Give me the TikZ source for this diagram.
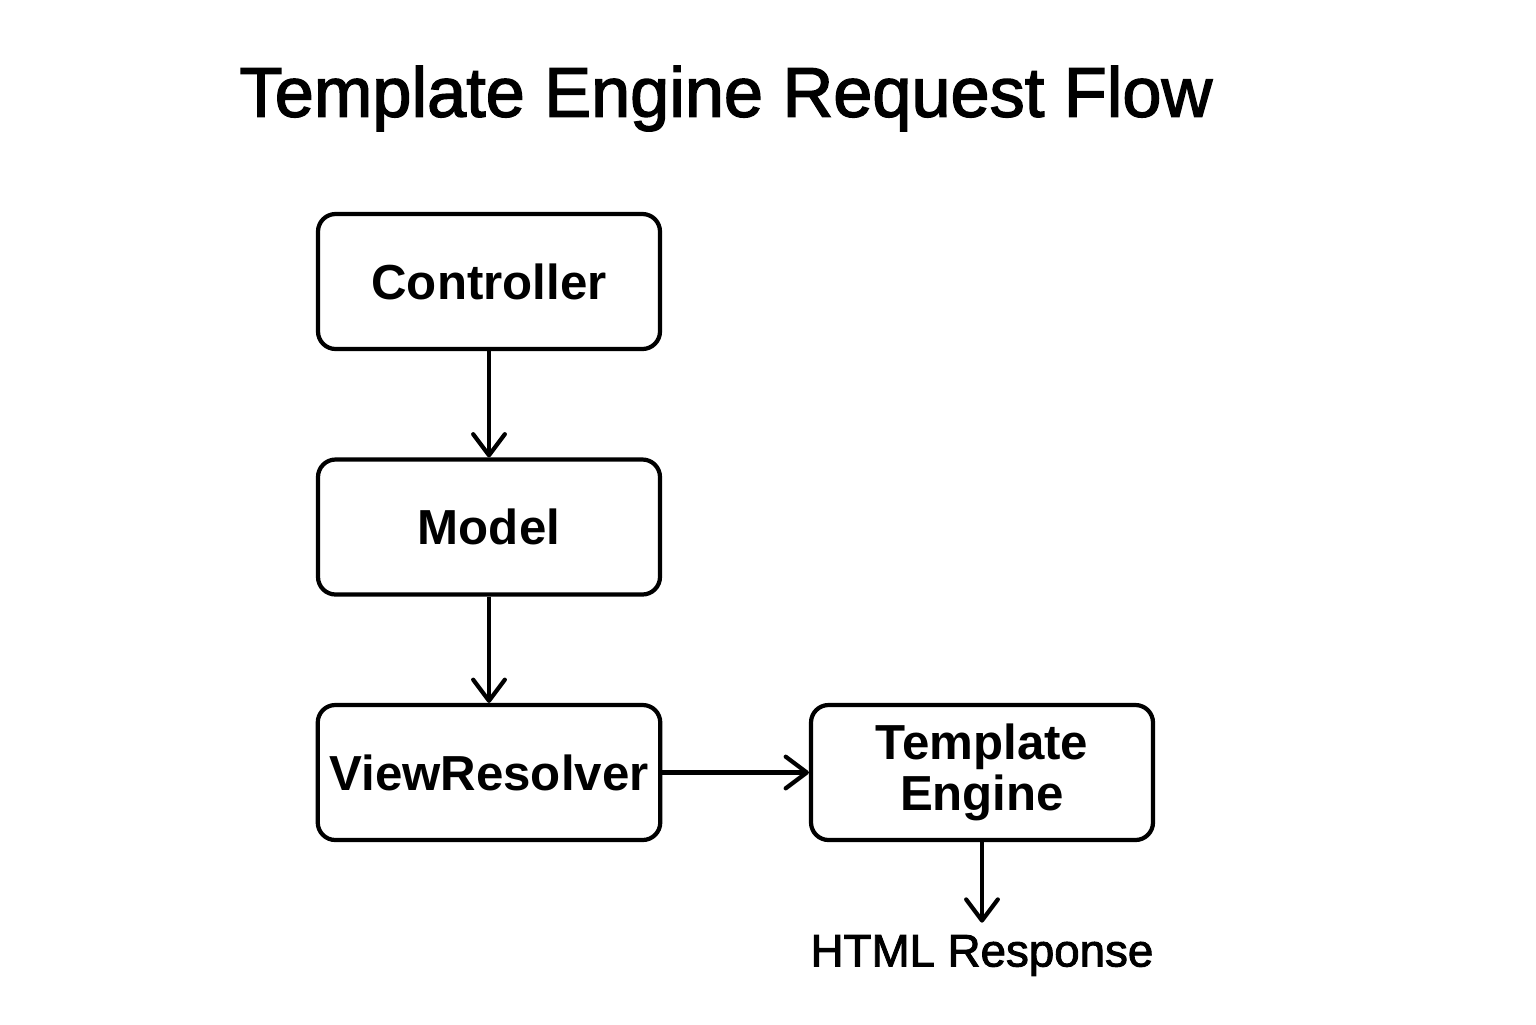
\documentclass[tikz,border=0pt]{standalone}
\usepackage{fontspec}
\setmainfont{Liberation Sans}
\newfontfamily\medfont[FakeBold=2]{Liberation Sans}
\usetikzlibrary{positioning,arrows.meta}

\begin{document}
\begin{tikzpicture}[
    box/.style={draw, line width=1.2pt, rounded corners=5pt, minimum width=3.42cm, minimum height=1.35cm, align=center, font=\fontsize{14}{14.5}\selectfont\bfseries},
    flow/.style={black, line width=1.2pt, -{Straight Barb[length=6pt,width=9pt,line cap=round,line join=round]}}
]
    \useasboundingbox (0,0) rectangle (15.36,-10.24);

    \node (title) at (7.26,-0.985) {\fontsize{20}{24}\medfont Template Engine Request Flow};

    \node [box] (ctrl) at (4.89,-2.815)                                    {Controller};
    \node [box] [node distance=2.455cm] [below of=ctrl]              (model) {Model};
    \node [box] [node distance=2.455cm] [below of=model]             (view)  {ViewResolver};
    \node [box] [node distance=4.93cm]  [right of=view]              (teng)  {Template\\ Engine};
    \node [node distance=1.83cm] [below of=teng] [font=\fontsize{13}{15}\medfont] (html) {HTML Response};

    \draw [flow] (ctrl)  -- (model);
    \draw [flow] (model) -- (view);
    \draw [flow] (view)  -- (teng);
    \draw [flow] (teng)  -- (html);
\end{tikzpicture}
\end{document}
